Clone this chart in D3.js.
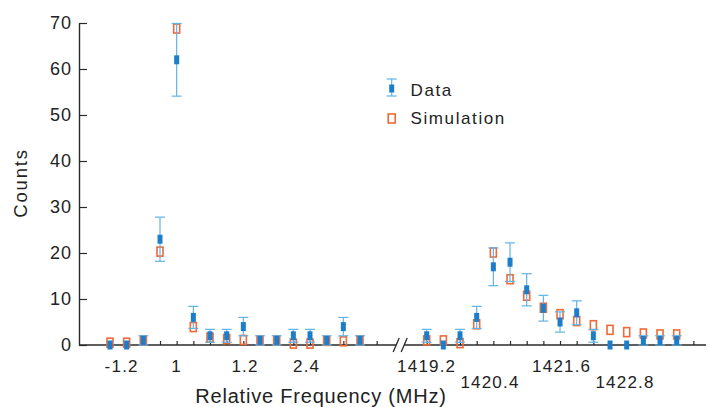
<!DOCTYPE html>
<html>
<head>
<meta charset="utf-8">
<script src="https://cdn.jsdelivr.net/npm/d3@7"></script>
<style>
  html, body { margin: 0; padding: 0; background: #fff; }
  svg text { font-family: "Liberation Sans", Arial, Helvetica, sans-serif; fill: #222; }
</style>
</head>
<body>
<svg id="chart" width="710" height="407"></svg>
<script>
// Bin index along the broken frequency axis (left block: 0–15, right block: 19–34)
const leftBins = d3.range(0, 16);
const rightBins = d3.range(19, 35);

// Measured counts, Poisson error half-widths, and simulated counts
const leftCounts = [0, 0, 1, 23, 62, 6, 2, 2, 4, 1, 1, 2, 2, 1, 4, 1];
const leftErrors = [0, 0, 1, 4.8, 7.9, 2.4, 1.4, 1.4, 2, 1, 1, 1.4, 1.4, 1, 2, 1];
const leftSim    = [0.5, 0.5, 1, 20.3, 68.8, 3.9, 1.6, 1.3, 1.1, 1, 1, 0.3, 0.3, 0.9, 0.8, 1];

const rightCounts = [2, 0, 2, 6, 17, 18, 12, 8, 5, 7, 2, 0, 0, 1, 1, 1];
const rightErrors = [1.4, 0, 1.4, 2.4, 4.1, 4.2, 3.5, 2.8, 2.2, 2.6, 1.4, 0, 0, 1, 1, 1];
const rightSim    = [1, 1, 0.4, 4.5, 20.1, 14.3, 10.7, 8.1, 6.7, 5.2, 4.3, 3.3, 2.8, 2.5, 2.3, 2.3];

// Axis ticks and labels
const xTickBins = d3.range(0, 17).concat(d3.range(19, 36));
const xTickLabels = ["-1.2", "1", "1.2", "2.4", "1419.2", "1420.4", "1421.6", "1422.8"];
const xTickLabelAt = [0.7, 4, 8.1, 11.8, 19, 22.8, 27.1, 30.9];
const xTickLabelRow = [0, 0, 0, 0, 0, 1, 0, 1];
const yTicks = [0, 10, 20, 30, 40, 50, 60, 70];

const blue = "#1c7dcb", lightBlue = "#62b3e6", orange = "#ee6a3a", ink = "#2a2a2a";

const svg = d3.select("#chart");
const plotLeft = 79, plotRight = 706;

const x = d3.scaleLinear().domain([0, 34]).range([110, 676.7]);
const y = d3.scaleLinear().domain([0, 70]).range([345, 23]);

const points = leftBins.map((b, i) => ({ bin: b, n: leftCounts[i], err: leftErrors[i], sim: leftSim[i] }))
  .concat(rightBins.map((b, i) => ({ bin: b, n: rightCounts[i], err: rightErrors[i], sim: rightSim[i] })));

// Y axis with inward ticks
const yAxis = svg.append("g")
  .attr("transform", `translate(${plotLeft},0)`)
  .call(d3.axisLeft(y).tickValues(yTicks).tickSizeInner(-8).tickSizeOuter(0).tickPadding(7));
yAxis.select(".domain").attr("stroke", ink).attr("stroke-width", 1.4);
yAxis.selectAll(".tick line").attr("stroke", ink).attr("stroke-width", 1.2);
yAxis.selectAll(".tick text")
  .style("font-family", '"Liberation Sans", Arial, sans-serif')
  .attr("font-size", 18).attr("letter-spacing", 1).attr("fill", ink);

// X axis: ticks only, domain line drawn separately to show the break
const xAxis = svg.append("g")
  .attr("transform", `translate(0,${y(0)})`)
  .call(d3.axisBottom(x).tickValues(xTickBins).tickSizeInner(-4).tickSizeOuter(0).tickFormat(""));
xAxis.select(".domain").remove();
xAxis.selectAll(".tick line").attr("stroke", ink).attr("stroke-width", 1.2);

const bx = x(17.5) - 1.5, y0 = y(0);
svg.append("line").attr("x1", plotLeft).attr("x2", bx - 4).attr("y1", y0).attr("y2", y0)
  .attr("stroke", ink).attr("stroke-width", 1.4);
svg.append("line").attr("x1", bx + 4).attr("x2", plotRight).attr("y1", y0).attr("y2", y0)
  .attr("stroke", ink).attr("stroke-width", 1.4);
[-4, 4].forEach(dx => {
  svg.append("line")
    .attr("x1", bx + dx - 3).attr("y1", y0 + 7)
    .attr("x2", bx + dx + 3).attr("y2", y0 - 7)
    .attr("stroke", ink).attr("stroke-width", 1.3);
});

// X tick labels in two staggered rows
svg.append("g").selectAll("text")
  .data(xTickLabels)
  .join("text")
  .attr("x", (d, i) => x(xTickLabelAt[i]))
  .attr("y", (d, i) => xTickLabelRow[i] ? 388 : 372)
  .attr("text-anchor", "middle")
  .attr("font-size", 17)
  .attr("letter-spacing", 1.2)
  .text(d => d);

// Axis titles
svg.append("text")
  .attr("x", 321).attr("y", 403)
  .attr("text-anchor", "middle")
  .attr("font-size", 20).attr("letter-spacing", 0.8)
  .text("Relative Frequency (MHz)");
svg.append("text")
  .attr("transform", "translate(27,183) rotate(-90)")
  .attr("text-anchor", "middle")
  .attr("font-size", 18.5).attr("letter-spacing", 1.8)
  .text("Counts");

// Simulation: open orange squares
svg.append("g").selectAll("rect")
  .data(points)
  .join("rect")
  .attr("x", d => x(d.bin) - 3)
  .attr("y", d => y(d.sim) - 4.5)
  .attr("width", 6).attr("height", 9)
  .attr("fill", "none").attr("stroke", orange).attr("stroke-width", 1.6);

// Data: error bars with caps, then filled blue markers
const eb = svg.append("g").selectAll("g")
  .data(points.filter(d => d.err > 0))
  .join("g")
  .attr("stroke", lightBlue).attr("stroke-width", 1.2);
eb.append("line")
  .attr("x1", d => x(d.bin)).attr("x2", d => x(d.bin))
  .attr("y1", d => y(d.n + d.err)).attr("y2", d => y(Math.max(0, d.n - d.err)));
eb.append("line")
  .attr("x1", d => x(d.bin) - 5).attr("x2", d => x(d.bin) + 5)
  .attr("y1", d => y(d.n + d.err)).attr("y2", d => y(d.n + d.err));
eb.append("line")
  .attr("x1", d => x(d.bin) - 5).attr("x2", d => x(d.bin) + 5)
  .attr("y1", d => y(Math.max(0, d.n - d.err))).attr("y2", d => y(Math.max(0, d.n - d.err)));

svg.append("g").selectAll("rect")
  .data(points)
  .join("rect")
  .attr("x", d => x(d.bin) - 2.5)
  .attr("y", d => y(d.n) - 4.5)
  .attr("width", 5).attr("height", 9)
  .attr("fill", blue);

// Legend
const lg = svg.append("g");
const lx = 391.7;
lg.append("line").attr("x1", lx).attr("x2", lx).attr("y1", 79).attr("y2", 96)
  .attr("stroke", lightBlue).attr("stroke-width", 1.2);
lg.append("line").attr("x1", lx - 5).attr("x2", lx + 5).attr("y1", 79).attr("y2", 79)
  .attr("stroke", lightBlue).attr("stroke-width", 1.2);
lg.append("line").attr("x1", lx - 5).attr("x2", lx + 5).attr("y1", 96).attr("y2", 96)
  .attr("stroke", lightBlue).attr("stroke-width", 1.2);
lg.append("rect").attr("x", lx - 2.5).attr("y", 84.5).attr("width", 5).attr("height", 8).attr("fill", blue);
lg.append("rect").attr("x", lx - 3.5).attr("y", 114).attr("width", 7).attr("height", 9)
  .attr("fill", "none").attr("stroke", orange).attr("stroke-width", 1.6);
lg.append("text").attr("x", 410.5).attr("y", 95.5).attr("font-size", 17).attr("letter-spacing", 1.6).text("Data");
lg.append("text").attr("x", 410.5).attr("y", 124).attr("font-size", 17).attr("letter-spacing", 1.6).text("Simulation");
</script>
</body>
</html>
